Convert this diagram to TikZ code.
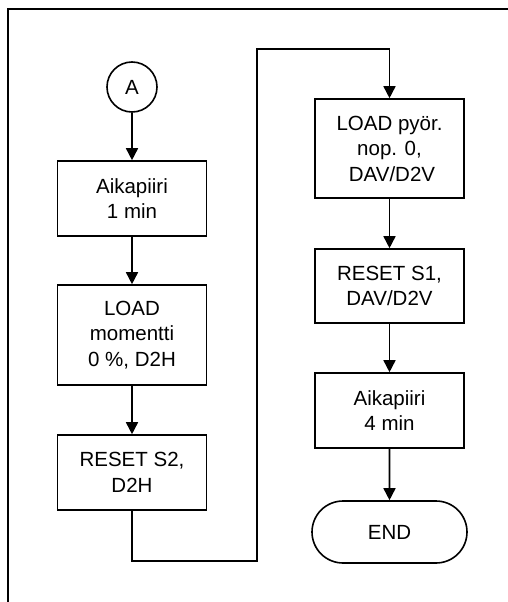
\documentclass[tikz,border=0pt]{standalone}
\usepackage{fontspec}
\setmainfont{Liberation Sans}
\usetikzlibrary{arrows.meta,shapes.misc}
\begin{document}
\begin{tikzpicture}[x=1pt,y=-1pt,
  line width=1.6pt,
  every node/.style={font=\fontsize{20.5}{25.5}\selectfont, align=center, inner sep=0pt},
  box/.style={draw, rectangle, minimum width=149pt},
  term/.style={draw, rounded rectangle, minimum width=155pt, minimum height=62pt},
  conn/.style={draw, circle, minimum size=50pt},
  arr/.style={-{Triangle[length=12pt,width=12pt]}}]
\useasboundingbox (0,0) rectangle (508,602);
\coordinate (f1) at (508,9);
\coordinate (f2) at (8,9);
\coordinate (f3) at (8,602);
\draw (f1) -- (f2) -- (f3);
\node[conn] (a) at (132,87) {A};
\node[box, minimum height=75pt] (b1) at (132,198.5) {Aikapiiri\\1 min};
\node[box, minimum height=100pt] (b2) at (132,335) {LOAD\\momentti\\0 \%, D2H};
\node[box, minimum height=75pt] (b3) at (132,472.5) {RESET S2,\\D2H};
\node[box, minimum height=99pt] (b4) at (389.5,148.5) {LOAD pyör.\\nop. 0,\\\hspace*{5pt}DAV/D2V};
\node[box, minimum height=74pt] (b5) at (389.5,286) {RESET S1,\\DAV/D2V};
\node[box, minimum height=75pt] (b6) at (389.5,410.5) {Aikapiiri\\4 min};
\node[term] (e) at (389.5,532) {END};
\coordinate (p1) at (257,561);
\coordinate (p2) at (257,49);
\draw[arr] (a) -- (b1);
\draw[arr] (b1) -- (b2);
\draw[arr] (b2) -- (b3);
\draw[arr] (b3.south) |- (p1) -- (p2) -| (b4.north);
\draw[arr] (b4) -- (b5);
\draw[arr] (b5) -- (b6);
\draw[arr] (b6) -- (e);
\end{tikzpicture}
\end{document}
